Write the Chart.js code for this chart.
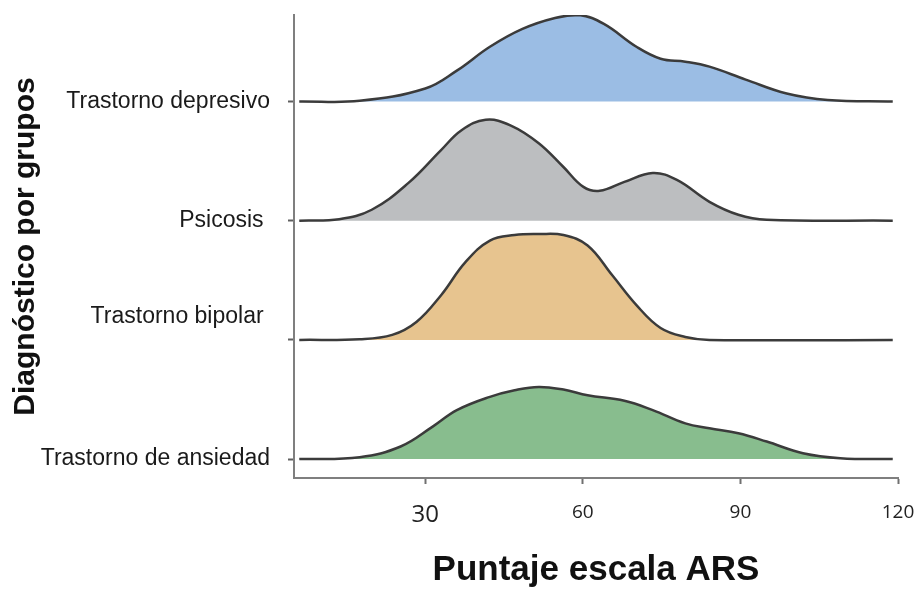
<!DOCTYPE html>
<html>
<head>
<meta charset="utf-8">
<script src="https://cdn.jsdelivr.net/npm/chart.js@4.4.0/dist/chart.umd.min.js"></script>
<style>
  html, body { margin: 0; padding: 0; background: #fff; }
  #wrap { width: 917px; height: 589px; }
</style>
</head>
<body>
<div id="wrap"><canvas id="ridgeChart"></canvas></div>
<script>
// Grupos de arriba hacia abajo
const grupos = ['Trastorno depresivo', 'Psicosis ', 'Trastorno bipolar ', 'Trastorno de ansiedad'];
const xTicks = [30, 60, 90, 120];

// Puntaje ARS (x) y altura de la densidad (y)
const depresivoX = [6, 17.5, 30, 36, 42.3, 48.5, 54.7, 59.3, 64, 70.2, 74.8, 79.5, 84.1, 91, 98.8, 106.6, 119];
const depresivoY = [0, 0.6, 13, 31, 55, 73, 84, 87, 78, 55, 43, 40, 35, 22, 8, 1.5, 0];

const psicosisX = [6, 13.6, 19.8, 26.8, 33, 36.9, 41.5, 46.2, 51.6, 56.3, 60.1, 63.2, 67.9, 73.3, 77.9, 84.1, 89.6, 95, 119];
const psicosisY = [0, 1.5, 11, 38, 71, 91, 101.5, 96, 78, 54, 34, 30, 39, 48, 41, 19, 6, 1, 0];

const bipolarX = [6, 17.5, 23.7, 28.3, 33, 37.6, 42.3, 47, 51.6, 56.3, 60.9, 65.6, 70.2, 74.8, 79.5, 84.1, 119];
const bipolarY = [0, 0.7, 5, 18, 45, 78, 100, 105.5, 106.5, 105.5, 95, 65, 35, 12, 3, 0, 0];

const ansiedadX = [6, 17.5, 25.3, 31.4, 36, 42.3, 47, 51.6, 56.3, 60.9, 67.9, 73.3, 79.5, 84.1, 89.6, 95, 101.9, 109, 119];
const ansiedadY = [0, 2, 12.7, 32.7, 49.3, 62.7, 69.3, 72.7, 70, 64.3, 58.7, 49.3, 36, 31, 26, 17.7, 6, 1, 0];

const series = [
    { x: depresivoX, y: depresivoY, color: '#9bbde4' },
    { x: psicosisX, y: psicosisY, color: '#bcbec0' },
    { x: bipolarX, y: bipolarY, color: '#e7c48f' },
    { x: ansiedadX, y: ansiedadY, color: '#88bd8e' }
];

const PASO = 120; // separacion vertical entre crestas
const base = i => (grupos.length - 1 - i) * PASO;

document.addEventListener('DOMContentLoaded', () => {
    const ctx = document.getElementById('ridgeChart');

    const datasets = series.map((s, i) => ({
        label: grupos[i],
        data: s.x.map((v, k) => ({ x: v, y: base(i) + s.y[k] })),
        borderColor: '#3b3b3b',
        borderWidth: 2.5,
        backgroundColor: s.color,
        fill: { value: base(i) },
        pointRadius: 0,
        tension: 0.4
    }));

    new Chart(ctx, {
        type: 'line',
        data: { datasets },
        options: {
            responsive: true,
            maintainAspectRatio: false,
            animation: false,
            layout: { padding: { top: 15, right: 19, left: 0, bottom: 0 } },
            plugins: {
                legend: { display: false },
                tooltip: { enabled: false }
            },
            scales: {
                x: {
                    type: 'linear',
                    min: 5,
                    max: 120,
                    afterBuildTicks: scale => { scale.ticks = xTicks.map(v => ({ value: v })); },
                    afterFit: scale => {
                        scale.height = 111;
                        scale.paddingLeft = 0;
                        scale.paddingRight = 0;
                    },
                    grid: { drawOnChartArea: false, drawTicks: true, tickLength: 6, tickColor: '#707070', tickWidth: 2 },
                    border: { color: '#7f7f7f', width: 2 },
                    ticks: {
                        color: '#222',
                        padding: 17,
                        maxRotation: 0,
                        font: c => ({ family: '"Open Sans", sans-serif', size: c.tick && c.tick.value === 30 ? 24 : 19 })
                    },
                    title: {
                        display: true,
                        text: 'Puntaje escala ARS',
                        color: '#111',
                        font: { family: '"Liberation Sans", Arial, sans-serif', size: 35, weight: 'bold', lineHeight: 1.05 },
                        padding: { top: 0, bottom: 0 }
                    }
                },
                y: {
                    type: 'linear',
                    min: -19,
                    max: 447,
                    afterBuildTicks: scale => { scale.ticks = grupos.map((g, i) => ({ value: base(i) })); },
                    afterFit: scale => {
                        scale.width = 294;
                        scale.paddingTop = 0;
                        scale.paddingBottom = 0;
                    },
                    grid: { drawOnChartArea: false, drawTicks: true, tickLength: 6, tickColor: '#606060', tickWidth: 2 },
                    border: { color: '#7f7f7f', width: 2 },
                    ticks: {
                        color: '#1a1a1a',
                        padding: 18,
                        font: { family: '"Liberation Sans", Arial, sans-serif', size: 23, lineHeight: 1.0 },
                        callback: value => {
                            const i = grupos.findIndex((g, k) => base(k) === value);
                            if (i < 0) return '';
                            // la etiqueta de bipolar aparece algo por encima de su linea base
                            return grupos[i].startsWith('Trastorno bipolar') ? [grupos[i], '', ''] : grupos[i];
                        }
                    },
                    title: {
                        display: true,
                        text: 'Diagnóstico por grupos',
                        color: '#111',
                        font: { family: '"Liberation Sans", Arial, sans-serif', size: 30, weight: 'bold', lineHeight: 1.2 },
                        padding: { top: 8, bottom: 0 }
                    }
                }
            }
        }
    });
});
</script>
</body>
</html>
